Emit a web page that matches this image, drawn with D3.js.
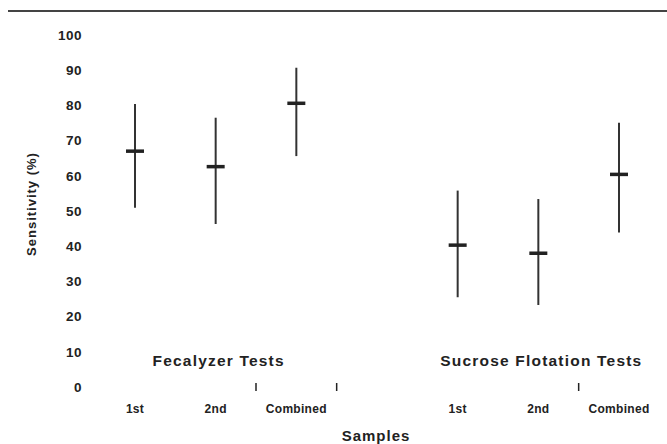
<!DOCTYPE html>
<html>
<head>
<meta charset="utf-8">
<script src="https://cdn.jsdelivr.net/npm/d3@7"></script>
<style>
  body { margin: 0; background: #fff; }
  text { font-family: "Liberation Sans", Arial, sans-serif; fill: #222; font-weight: bold; }
</style>
</head>
<body>
<svg width="667" height="444"></svg>
<script>
// slots along x, the empty one separates the two test groups
const slots = ["F1", "F2", "FC", "gap", "S1", "S2", "SC"];
const sampleLabels = ["1st", "2nd", "Combined", "", "1st", "2nd", "Combined"];
const means = [67, 62.6, 80.6, null, 40.3, 38, 60.4];
const upper = [80.4, 76.5, 90.7, null, 55.8, 53.4, 75.1];
const lower = [50.9, 46.3, 65.6, null, 25.5, 23.3, 43.9];
const groups = ["Fecalyzer Tests", "Sucrose Flotation Tests"];
const groupSlots = [["F1", "FC"], ["S1", "SC"]];
const yTicks = [0, 10, 20, 30, 40, 50, 60, 70, 80, 90, 100];
// little separator ticks sit between these slot pairs
const sepTicks = [["F2", "FC"], ["FC", "gap"], ["S2", "SC"]];

const svg = d3.select("svg");

const y = d3.scaleLinear().domain([0, 100]).range([387, 35]);
const x = d3.scalePoint().domain(slots).range([135, 619]);

// top rule
svg.append("line")
    .attr("x1", 8).attr("x2", 667)
    .attr("y1", 11).attr("y2", 11)
    .attr("stroke", "#444").attr("stroke-width", 2);

// y axis, labels only
const yAxis = svg.append("g")
    .attr("transform", "translate(86,0)")
    .call(d3.axisLeft(y).tickValues(yTicks).tickSize(0).tickPadding(4));
yAxis.select(".domain").remove();
yAxis.selectAll("text")
    .attr("font-size", "13.5px")
    .attr("letter-spacing", "0.5px")
    .style("font-family", "'Liberation Sans', Arial, sans-serif")
    .style("font-weight", "bold")
    .attr("fill", "#222");

svg.append("text")
    .attr("transform", "translate(36,204) rotate(-90)")
    .attr("text-anchor", "middle")
    .attr("font-size", "13px")
    .attr("letter-spacing", "1px")
    .text("Sensitivity (%)");

const rows = slots.map((s, i) => ({ slot: s, mean: means[i], hi: upper[i], lo: lower[i] }))
    .filter(d => d.mean !== null);

svg.selectAll(".whisker")
    .data(rows)
    .enter()
    .append("line")
    .attr("class", "whisker")
    .attr("x1", d => x(d.slot)).attr("x2", d => x(d.slot))
    .attr("y1", d => y(d.hi)).attr("y2", d => y(d.lo))
    .attr("stroke", "#333").attr("stroke-width", 2);

svg.selectAll(".cap")
    .data(rows)
    .enter()
    .append("line")
    .attr("class", "cap")
    .attr("x1", d => x(d.slot) - 9).attr("x2", d => x(d.slot) + 9)
    .attr("y1", d => y(d.mean)).attr("y2", d => y(d.mean))
    .attr("stroke", "#222").attr("stroke-width", 3.5);

// group names
svg.selectAll(".grp")
    .data(groups)
    .enter()
    .append("text")
    .attr("class", "grp")
    .attr("x", (d, i) => (x(groupSlots[i][0]) + x(groupSlots[i][1])) / 2 + 3)
    .attr("y", 366)
    .attr("text-anchor", "middle")
    .attr("font-size", "15.5px")
    .attr("letter-spacing", "1.2px")
    .text(d => d);

// separator ticks
svg.selectAll(".sep")
    .data(sepTicks)
    .enter()
    .append("line")
    .attr("class", "sep")
    .attr("x1", d => (x(d[0]) + x(d[1])) / 2)
    .attr("x2", d => (x(d[0]) + x(d[1])) / 2)
    .attr("y1", 383).attr("y2", 391)
    .attr("stroke", "#222").attr("stroke-width", 1.5);

// sample labels
svg.selectAll(".samp")
    .data(slots)
    .enter()
    .append("text")
    .attr("class", "samp")
    .attr("x", d => x(d))
    .attr("y", 413)
    .attr("text-anchor", "middle")
    .attr("font-size", "12px")
    .attr("letter-spacing", "0.3px")
    .text((d, i) => sampleLabels[i]);

svg.append("text")
    .attr("x", 376)
    .attr("y", 441)
    .attr("text-anchor", "middle")
    .attr("font-size", "15px")
    .attr("letter-spacing", "1px")
    .text("Samples");
</script>
</body>
</html>
